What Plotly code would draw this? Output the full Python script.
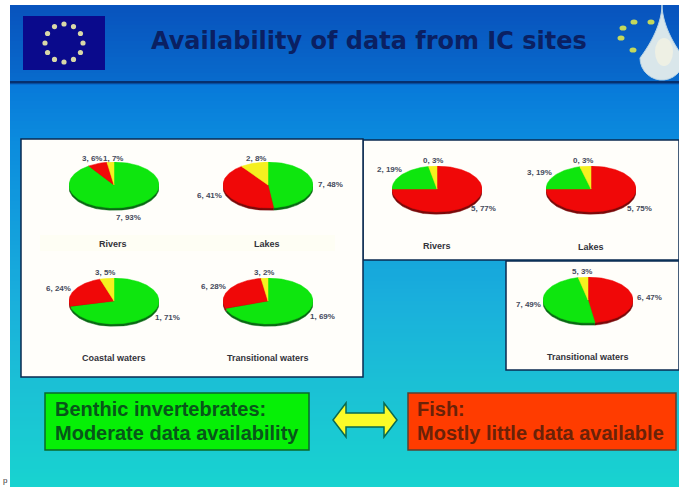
import numpy as np
import plotly.graph_objects as go

W, H = 679, 487

# ---- data ----
pie_names = ["Rivers", "Lakes", "Coastal waters", "Transitional waters",
             "Rivers", "Lakes", "Transitional waters"]
green = [90.5, 48, 71, 69.5, 22, 21, 49]
red = [7, 42, 24, 28, 75, 75, 47.5]
yellow = [2.5, 10, 5, 2.5, 3, 4, 3.5]
slice_order = [["g", "r", "y"], ["g", "r", "y"], ["g", "r", "y"], ["g", "r", "y"],
               ["r", "g", "y"], ["r", "g", "y"], ["r", "g", "y"]]
label_text = [["7, 93%", "3, 6%", "1, 7%"], ["7, 48%", "6, 41%", "2, 8%"],
              ["1, 71%", "6, 24%", "3, 5%"], ["1, 69%", "6, 28%", "3, 2%"],
              ["5, 77%", "2, 19%", "0, 3%"], ["5, 75%", "3, 19%", "0, 3%"],
              ["6, 47%", "7, 49%", "5, 3%"]]
title_text = "Availability of data from IC sites"
left_box = ["Benthic invertebrates:", "Moderate data availability"]
right_box = ["Fish:", "Mostly little data available"]

# ---- layout (pixels) ----
centers = [(114, 185), (268, 185), (114, 301), (268, 301), (437, 189), (591, 189), (588, 300)]
RX, RY, RIM = 45, 23, 2.5
label_pos = [[(128, 217), (92, 158), (113, 158)], [(330, 184), (209, 195), (256, 158)],
             [(167, 317), (58, 288), (105, 272)], [(322, 316), (213, 286), (264, 272)],
             [(483, 208), (389, 170), (433, 160)], [(639, 208), (539, 172), (583, 160)],
             [(649, 297), (528, 304), (582, 271)]]
caption_pos = [(113, 244), (267, 244), (114, 358), (268, 358), (437, 246), (591, 247), (588, 357)]
TOP = {"g": "#0ee60e", "r": "#f00808", "y": "#f5f020"}
DARK = {"g": "#0a6a14", "r": "#7a0a0a", "y": "#8a8a10"}


def X(p): return p / W
def Y(p): return 1 - p / H


def rect(x0, y0, x1, y1, fill, line=None, lw=0):
    return dict(type="rect", xref="paper", yref="paper", x0=X(x0), x1=X(x1), y0=Y(y1), y1=Y(y0),
                fillcolor=fill, line=dict(color=line or fill, width=lw), layer="below")


def path(pts, fill, line, lw=1):
    d = "M " + " L ".join(f"{X(a):.5f},{Y(b):.5f}" for a, b in pts) + " Z"
    return dict(type="path", xref="paper", yref="paper", path=d, fillcolor=fill,
                line=dict(color=line, width=lw), layer="below")


def ell(cx, cy, rx, ry, fill, line=None, lw=0):
    return dict(type="circle", xref="paper", yref="paper", x0=X(cx - rx), x1=X(cx + rx),
                y0=Y(cy + ry), y1=Y(cy - ry), fillcolor=fill,
                line=dict(color=line or fill, width=lw), layer="below")


# gradient background
stops = [(5, (8, 84, 190)), (82, (8, 108, 205)), (83, (8, 122, 218)), (140, (12, 140, 222)),
         (300, (26, 176, 220)), (380, (28, 192, 214)), (487, (24, 212, 208))]
shapes = [rect(0, 0, W, H, "#ffffff")]
for y in np.arange(5, H, 4):
    c = [np.interp(y, [s[0] for s in stops], [s[1][k] for s in stops]) for k in range(3)]
    shapes.append(rect(10, y, W, min(y + 4, H), "rgb(%d,%d,%d)" % tuple(c)))

# header
shapes.append(rect(10, 81, W, 83.5, "#06306e"))
shapes.append(rect(23, 16, 105, 70, "#0a0a8c"))
for a in np.arange(0, 360, 30):
    r = np.radians(a)
    shapes.append(ell(64 + 19 * np.cos(r), 43 + 19 * np.sin(r), 2.6, 2.6, "#d8d8a8"))
# drop with a point at the top
DROP_CX, DROP_CY, DROP_R = 662, 58, 22
neck = [(DROP_CX + DROP_R * ((y - 5) / 53) ** 1.8, y) for y in range(5, 58, 4)]
belly = [(DROP_CX + DROP_R * np.cos(t), DROP_CY + DROP_R * np.sin(t)) for t in np.radians(np.arange(0, 181, 12))]
neck_l = [(2 * DROP_CX - a, b) for a, b in reversed(neck)]
shapes.append(path(neck + belly + neck_l, "#d9e6ea", "#b8d4e6"))
shapes.append(ell(664, 52, 9, 14, "#eef0e4"))
for a, b in [(623, 28), (634, 22), (651, 22), (621, 38), (633, 50)]:
    shapes.append(ell(a, b, 3.5, 2.6, "#c4d85c"))

# panels
shapes.append(rect(363, 140, 679, 260, "#fffefa", "#0a2a50", 1.5))
shapes.append(rect(506, 261, 679, 370, "#fffefa", "#0a2a50", 1.5))
shapes.append(rect(21, 139, 363, 377, "#fffefa", "#0a2a50", 1.5))
shapes.append(rect(40, 235, 335, 251, "#fefef4"))

# bottom boxes
shapes.append(rect(45, 393, 309, 450, "#06f006", "#0a6a2a", 1.5))
shapes.append(rect(408, 393, 676, 450, "#ff3c00", "#5a4030", 1.5))
ARROW = [(333, 420), (346, 403), (346, 413), (384, 413), (384, 403), (397, 420),
         (384, 437), (384, 427), (346, 427), (346, 437)]
shapes.append(path(ARROW, "#fbfb28", "#0a6a50", 1.5))

annotations = []


def text(x, y, s, size, color, bold=False, anchor="center", family="Liberation Sans"):
    annotations.append(dict(xref="paper", yref="paper", x=X(x), y=Y(y), text=f"<b>{s}</b>" if bold else s,
                            showarrow=False, xanchor=anchor, yanchor="middle",
                            font=dict(size=size, color=color, family=family)))


text(149, 41, title_text, 24, "#0a2062", True, "left", "DejaVu Sans")
text(53, 409, left_box[0], 20, "#08561a", True, "left")
text(53, 433, left_box[1], 20, "#08561a", True, "left")
text(415, 409, right_box[0], 20, "#6a2208", True, "left")
text(415, 433, right_box[1], 20, "#6a2208", True, "left")
text(1, 480, "p", 8, "#333333", False, "left")

fig = go.Figure()
layout_axes = {}
DEPTH = RIM / RY
for i, name in enumerate(pie_names):
    cx, cy = centers[i]
    ax = "" if i == 0 else str(i + 1)
    layout_axes[f"xaxis{ax}"] = dict(domain=[X(cx - RX), X(cx + RX)], range=[-1, 1], visible=False, fixedrange=True)
    layout_axes[f"yaxis{ax}"] = dict(domain=[Y(cy + RY + RIM), Y(cy - RY)], range=[-1 - DEPTH, 1], visible=False,
                                     fixedrange=True)
    vals = {"g": green[i], "r": red[i], "y": yellow[i]}
    total = sum(vals.values())
    # extruded rim first, then the face
    for dy, palette in ((-DEPTH, DARK), (0, TOP)):
        start = 0.0
        for key in slice_order[i]:
            end = start + vals[key] / total * 2 * np.pi
            t = np.linspace(start, end, max(int((end - start) * 40), 4))
            xs = np.r_[0, np.sin(t), 0]
            ys_ = np.r_[0, np.cos(t), 0] + dy
            fig.add_trace(go.Scatter(x=xs, y=ys_, mode="lines", fill="toself", fillcolor=palette[key],
                                     line=dict(color=palette[key], width=0.5), xaxis=f"x{ax}", yaxis=f"y{ax}",
                                     cliponaxis=False, showlegend=False, name=f"{name} {key}", hoverinfo="name"))
            start = end
    for s, (lx, ly) in zip(label_text[i], label_pos[i]):
        text(lx, ly, s, 8, "#454a5c", True)
    text(caption_pos[i][0], caption_pos[i][1], name, 9, "#33333a", True)

fig.update_layout(width=W, height=H, margin=dict(l=0, r=0, t=0, b=0), paper_bgcolor="#ffffff",
                  plot_bgcolor="rgba(0,0,0,0)", showlegend=False, shapes=shapes, annotations=annotations,
                  **layout_axes)
fig.write_html("out.html", config={"displayModeBar": False},
               post_script="document.body.style.margin='0';document.documentElement.style.overflow='hidden';")
